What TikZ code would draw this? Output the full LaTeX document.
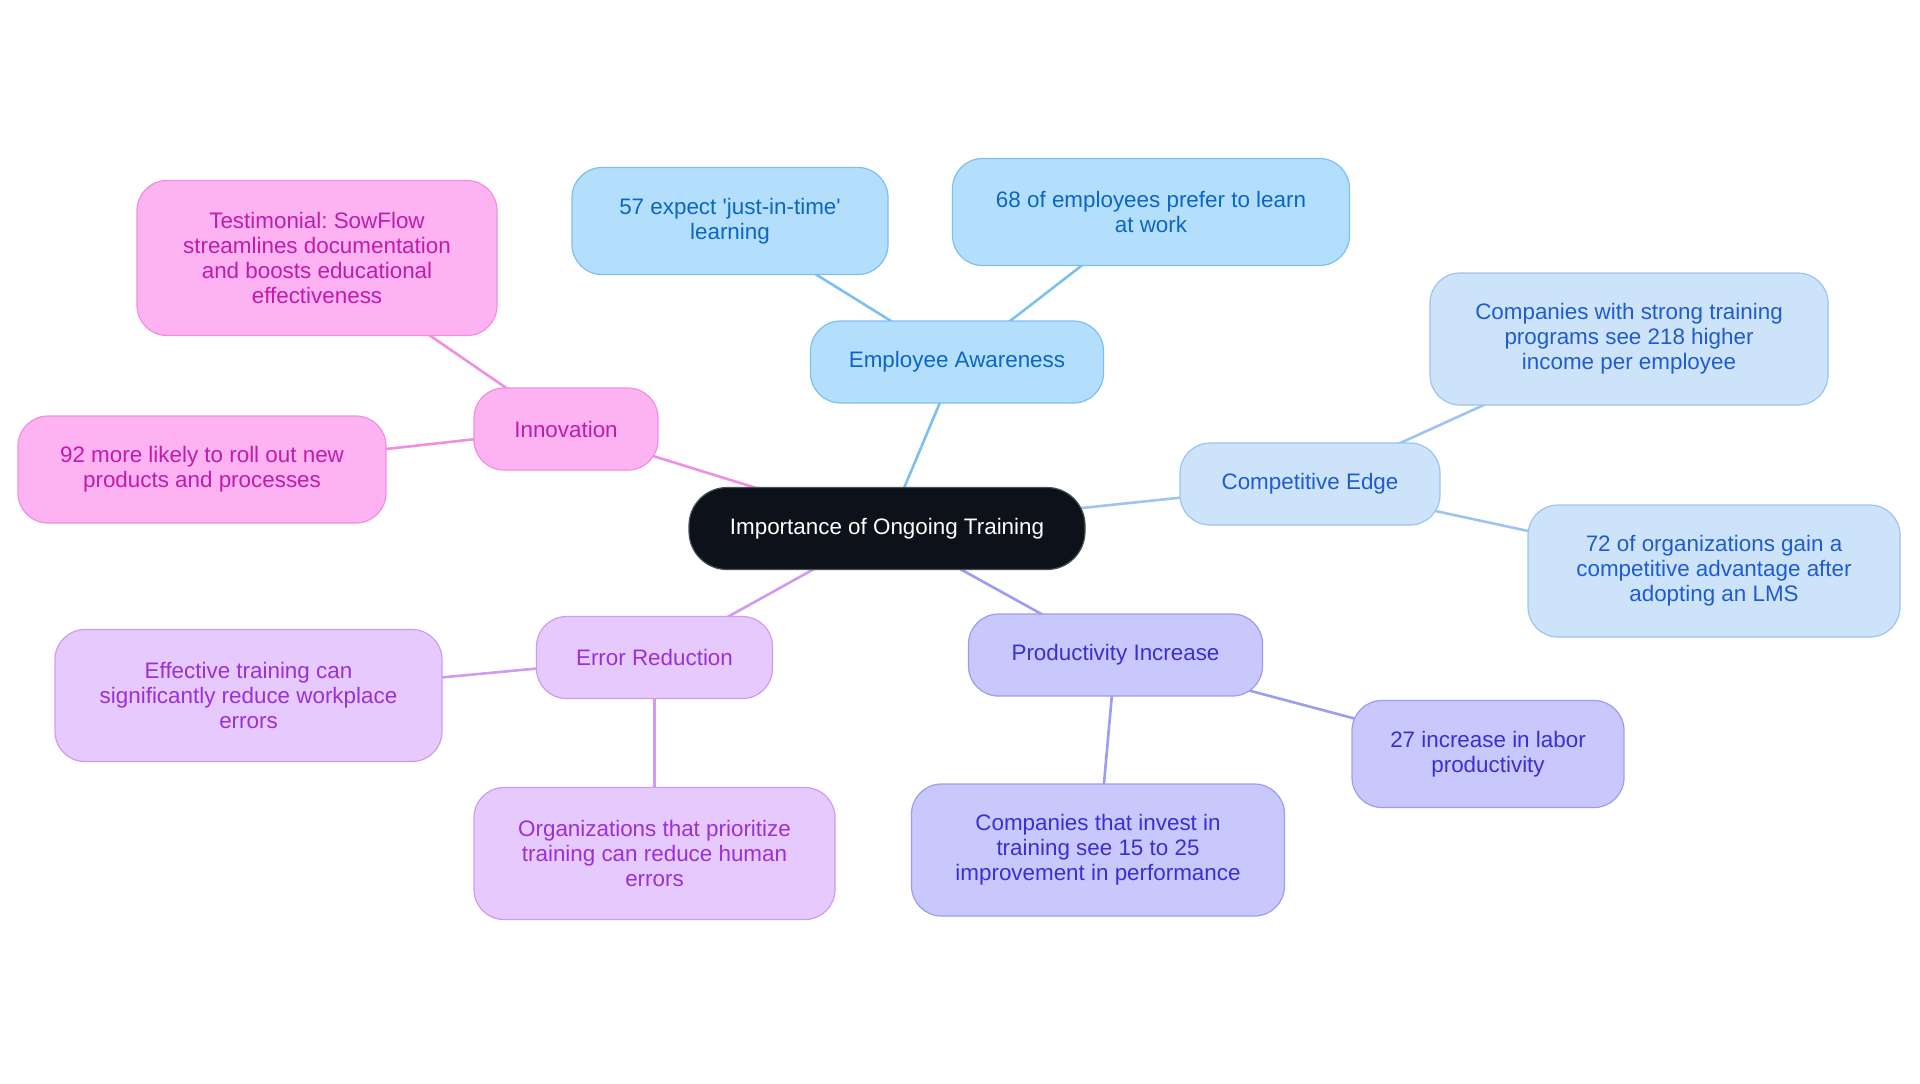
\documentclass[tikz,border=0pt]{standalone}
\usepackage{fontspec}
\setmainfont{Liberation Sans}
\usetikzlibrary{backgrounds}
\frenchspacing
\definecolor{rootfill}{HTML}{0D121A}
\definecolor{rootline}{HTML}{4A4F56}
\definecolor{awfill}{HTML}{B3DFFD}
\definecolor{awline}{HTML}{7CC0F2}
\definecolor{awtext}{HTML}{0B66C6}
\definecolor{cefill}{HTML}{CDE3FA}
\definecolor{celine}{HTML}{9DC4F2}
\definecolor{cetext}{HTML}{1E5CD0}
\definecolor{prfill}{HTML}{C8C8FC}
\definecolor{prline}{HTML}{9C9CF2}
\definecolor{prtext}{HTML}{3A2FD2}
\definecolor{erfill}{HTML}{E6CAFD}
\definecolor{erline}{HTML}{CF9BF2}
\definecolor{ertext}{HTML}{9B30D8}
\definecolor{infill}{HTML}{FDB2F2}
\definecolor{inline}{HTML}{F08FE0}
\definecolor{intext}{HTML}{C21BAC}

\begin{document}
\begin{tikzpicture}[x=0.5pt, y=-0.5pt,
    box/.style={rectangle, rounded corners=15pt, draw, line width=0.6pt, align=center,
        inner xsep=8pt, inner ysep=4pt, font=\fontsize{11.2}{12.5}\selectfont},
    one/.style={minimum height=41pt},
    two/.style={minimum height=53.5pt},
    three/.style={minimum height=66pt},
    four/.style={minimum height=77.5pt},
    root/.style={box, fill=rootfill, draw=rootline, text=white, rounded corners=19pt},
    aware/.style={box, fill=awfill, draw=awline, text=awtext},
    compete/.style={box, fill=cefill, draw=celine, text=cetext},
    produce/.style={box, fill=prfill, draw=prline, text=prtext},
    error/.style={box, fill=erfill, draw=erline, text=ertext},
    innov/.style={box, fill=infill, draw=inline, text=intext},
    link/.style={line width=1.3pt}]
\useasboundingbox (0,0) rectangle (1920,1083);

% centre
\node[root, one, minimum width=198pt] (ctr) at (887,528.5) {Importance of Ongoing Training};

% employee awareness
\node[aware, one, minimum width=146.5pt] (aw) at (957,362) {Employee Awareness};
\node[aware, two, minimum width=158pt] (jit) at (730,221) {57 expect \textquotesingle just-in-time\textquotesingle\\learning};
\node[aware, two, minimum width=198.5pt] (atwork) at (1151,212) {68 of employees prefer to learn\\at work};

% competitive edge
\node[compete, one, minimum width=130pt] (ce) at (1310,484) {Competitive Edge};
\node[compete, three, minimum width=199pt] (income) at (1629,339) {Companies with strong training\\programs see 218 higher\\income per employee};
\node[compete, three, minimum width=186pt] (lms) at (1714,571) {72 of organizations gain a\\competitive advantage after\\adopting an LMS};

% productivity increase
\node[produce, one, minimum width=147pt] (pr) at (1115.5,655) {Productivity Increase};
\node[produce, two, minimum width=136pt] (labor) at (1488,754) {27 increase in labor\\productivity};
\node[produce, three, minimum width=186.5pt] (perf) at (1098,850) {Companies that invest in\\training see 15 to 25\\improvement in performance};

% error reduction
\node[error, one, minimum width=118pt] (er) at (654.5,657.5) {Error Reduction};
\node[error, three, minimum width=193.5pt] (wperr) at (248.5,695.5) {Effective training can\\significantly reduce workplace\\errors};
\node[error, three, minimum width=180.5pt] (human) at (654.5,853.5) {Organizations that prioritize\\training can reduce human\\errors};

% innovation
\node[innov, one, minimum width=92pt] (inno) at (566,429) {Innovation};
\node[innov, four, minimum width=180pt] (testi) at (317,258) {Testimonial: SowFlow\\streamlines documentation\\and boosts educational\\effectiveness};
\node[innov, two, minimum width=184pt] (rollout) at (202,469.5) {92 more likely to roll out new\\products and processes};

\begin{scope}[on background layer]
\draw[link, awline] (ctr.center) -- (aw.center);
\draw[link, awline] (aw.center) -- (jit.center);
\draw[link, awline] (aw.center) -- (atwork.center);
\draw[link, celine] (ctr.center) -- (ce.center);
\draw[link, celine] (ce.center) -- (income.center);
\draw[link, celine] (ce.center) -- (lms.center);
\draw[link, prline] (ctr.center) -- (pr.center);
\draw[link, prline] (pr.center) -- (labor.center);
\draw[link, prline] (pr.center) -- (perf.center);
\draw[link, erline] (ctr.center) -- (er.center);
\draw[link, erline] (er.center) -- (wperr.center);
\draw[link, erline] (er.center) -- (human.center);
\draw[link, inline] (ctr.center) -- (inno.center);
\draw[link, inline] (inno.center) -- (testi.center);
\draw[link, inline] (inno.center) -- (rollout.center);
\end{scope}
\end{tikzpicture}
\end{document}
